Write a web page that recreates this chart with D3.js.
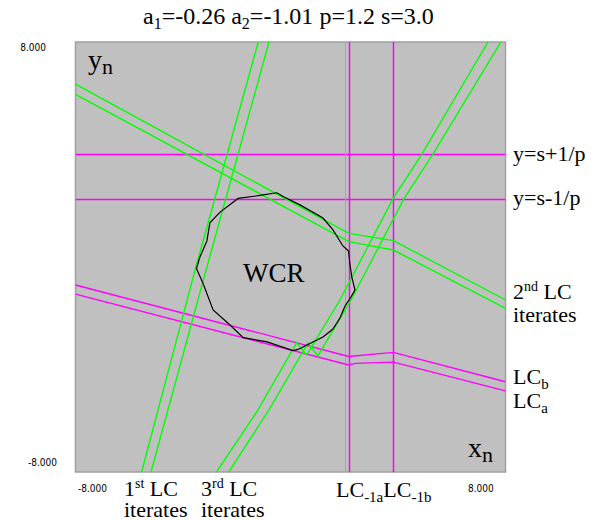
<!DOCTYPE html>
<html>
<head>
<meta charset="utf-8">
<script src="https://cdn.jsdelivr.net/npm/d3@7"></script>
<style>
  body { margin: 0; background: #fff; }
  svg text { font-family: "Liberation Serif", "Times New Roman", Times, serif; }
</style>
</head>
<body>
<svg width="597" height="520"></svg>
<script>
// parameters shown in the title
const params = [['a', '1', '-0.26'], ['a', '2', '-1.01'], ['p', '', '1.2'], ['s', '', '3.0']];
const extent = [-8, 8];
const tickText = ['-8.000', '8.000'];

// critical lines LC_-1 (vertical) and y = s +- 1/p (horizontal)
const hLines = [3.83, 2.17];
const vLines = [2.03, 2.17, 3.83];

// critical curves LC_a, LC_b
const lcA = [[-8, -1.38], [2.17, -4.02], [2.42, -3.96], [3.83, -3.91], [8, -4.98]];
const lcB = [[-8, -1.04], [2.17, -3.70], [3.83, -3.55], [8, -4.64]];

// iterates of LC (green)
const iter1a = [[-1.20, 8], [-3.55, -0.48], [-5.54, -8]];
const iter1b = [[-0.80, 8], [-3.14, -0.48], [-5.19, -8]];
const iter2a = [[-8, 6.43], [2.17, 0.88], [3.83, 0.61], [8, -1.60]];
const iter2b = [[-8, 6.05], [2.17, 0.57], [3.83, 0.26], [8, -1.91]];
const iter3a = [[-2.75, -8], [-1.21, -5.69], [0.23, -3.19], [0.60, -3.65], [1.84, -1.60], [3.81, 2.16], [4.89, 3.83], [7.35, 8]];
const iter3b = [[-2.30, -8], [-0.80, -5.69], [0.65, -3.20], [1.02, -3.68], [2.25, -1.60], [4.22, 2.16], [5.30, 3.83], [7.83, 8]];

// boundary of the weakly chaotic region
const wcr = [
  [-2.62, 1.67], [-1.95, 2.18], [-1.14, 2.29], [-0.51, 2.39], [-0.24, 2.23], [0.35, 1.94],
  [1.21, 1.45], [1.58, 1.01], [1.95, 0.41], [2.16, 0.22], [2.21, -0.26], [2.28, -0.74],
  [2.40, -1.23], [2.25, -1.49], [2.03, -1.82], [1.84, -2.27], [1.58, -2.68], [1.21, -2.98],
  [0.76, -3.20], [0.28, -3.44], [0.09, -3.48], [-0.87, -3.16], [-1.76, -3.00], [-2.25, -2.53],
  [-2.88, -1.97], [-3.26, -0.97], [-3.50, -0.43], [-3.37, 0.00], [-3.11, 0.60], [-3.00, 1.27]
];

const svg = d3.select('svg');
const plotLeft = 75.5, plotTop = 42, size = 430;
const x = d3.scaleLinear().domain(extent).range([plotLeft, plotLeft + size]);
const y = d3.scaleLinear().domain(extent).range([plotTop + size, plotTop]);
const line = d3.line().x(d => x(d[0])).y(d => y(d[1]));
const snap = v => Math.round(v) + 0.5;

svg.append('clipPath').attr('id', 'plot')
  .append('rect').attr('x', plotLeft).attr('y', plotTop).attr('width', size).attr('height', size);

svg.append('rect')
  .attr('x', plotLeft).attr('y', plotTop).attr('width', size).attr('height', size)
  .attr('fill', '#c0c0c0').attr('stroke', '#a0a0a0').attr('stroke-width', 1.5);

const g = svg.append('g').attr('clip-path', 'url(#plot)');

g.selectAll('.h').data(hLines).enter().append('line')
  .attr('x1', x(extent[0])).attr('x2', x(extent[1]))
  .attr('y1', d => snap(y(d))).attr('y2', d => snap(y(d)))
  .attr('stroke', '#ff00ff').attr('stroke-width', 1.5);

g.selectAll('.v').data(vLines).enter().append('line')
  .attr('y1', y(extent[0])).attr('y2', y(extent[1]))
  .attr('x1', d => snap(x(d))).attr('x2', d => snap(x(d)))
  .attr('stroke', (d, i) => i === 0 ? '#f070f0' : '#ff00ff').attr('stroke-width', (d, i) => i === 0 ? 1 : 1.5);

g.selectAll('.lc').data([lcA, lcB]).enter().append('path')
  .attr('d', line).attr('fill', 'none')
  .attr('stroke', '#ff00ff').attr('stroke-width', 1.4);

g.selectAll('.it').data([iter1a, iter1b, iter2a, iter2b, iter3a, iter3b]).enter().append('path')
  .attr('d', line).attr('fill', 'none')
  .attr('stroke', '#00ff00').attr('stroke-width', 1.4);

g.append('path').datum(wcr)
  .attr('d', d3.line().x(d => x(d[0])).y(d => y(d[1])).curve(d3.curveLinearClosed))
  .attr('fill', 'none').attr('stroke', '#000').attr('stroke-width', 1.2);

function txt(xp, yp, fs) {
  return svg.append('text').attr('x', xp).attr('y', yp)
    .attr('font-size', fs).attr('fill', '#000');
}

// title with subscripts
const t = txt(143, 24, 24);
params.forEach((p, i) => {
  t.append('tspan').text((i ? ' ' : '') + p[0]);
  if (p[1]) t.append('tspan').attr('font-size', 16).attr('dy', 5).text(p[1]);
  t.append('tspan').attr('dy', p[1] ? -5 : 0).text('=' + p[2]);
});

// tick labels
function tick(xp, yp, s, anchor) {
  svg.append('text').attr('x', xp).attr('y', yp).attr('text-anchor', anchor)
    .style('font-family', '"DejaVu Sans Condensed", "Liberation Sans", sans-serif')
    .attr('font-size', 10).attr('fill', '#000').text(s);
}
tick(46, 51, tickText[1], 'end');
tick(57, 466, tickText[0], 'end');
tick(78, 492, tickText[0], 'start');
tick(468, 492, tickText[1], 'start');

// axis names
function sub(xp, yp, main, s, fs, sfs, shift) {
  const tx = txt(xp, yp, fs);
  tx.append('tspan').text(main);
  tx.append('tspan').attr('font-size', sfs).attr('dy', shift).text(s);
  return tx;
}
sub(88, 69, 'y', 'n', 28, 22, 5);
sub(468, 457, 'x', 'n', 28, 22, 5);

txt(243, 282, 27).text('WCR');

// right side labels
txt(513, 161, 22).text('y=s+1/p');
txt(513, 205, 22).text('y=s-1/p');
function sup(xp, yp, main, s, rest) {
  const tx = txt(xp, yp, 22);
  tx.append('tspan').text(main);
  tx.append('tspan').attr('font-size', 14).attr('dy', -8).text(s);
  tx.append('tspan').attr('dy', 8).text(rest);
}
sup(513, 299, '2', 'nd', ' LC');
txt(513, 322, 22).text('iterates');
sub(513, 384, 'LC', 'b', 22, 15, 5);
sub(513, 408, 'LC', 'a', 22, 15, 5);

// bottom labels
sup(124, 496, '1', 'st', ' LC');
txt(124, 517, 22).text('iterates');
sup(201, 496, '3', 'rd', ' LC');
txt(201, 517, 22).text('iterates');
const lcm = txt(336, 497, 22);
lcm.append('tspan').text('LC');
lcm.append('tspan').attr('font-size', 15).attr('dy', 5).text('-1a');
lcm.append('tspan').attr('dy', -5).text('LC');
lcm.append('tspan').attr('font-size', 15).attr('dy', 5).text('-1b');
</script>
</body>
</html>
